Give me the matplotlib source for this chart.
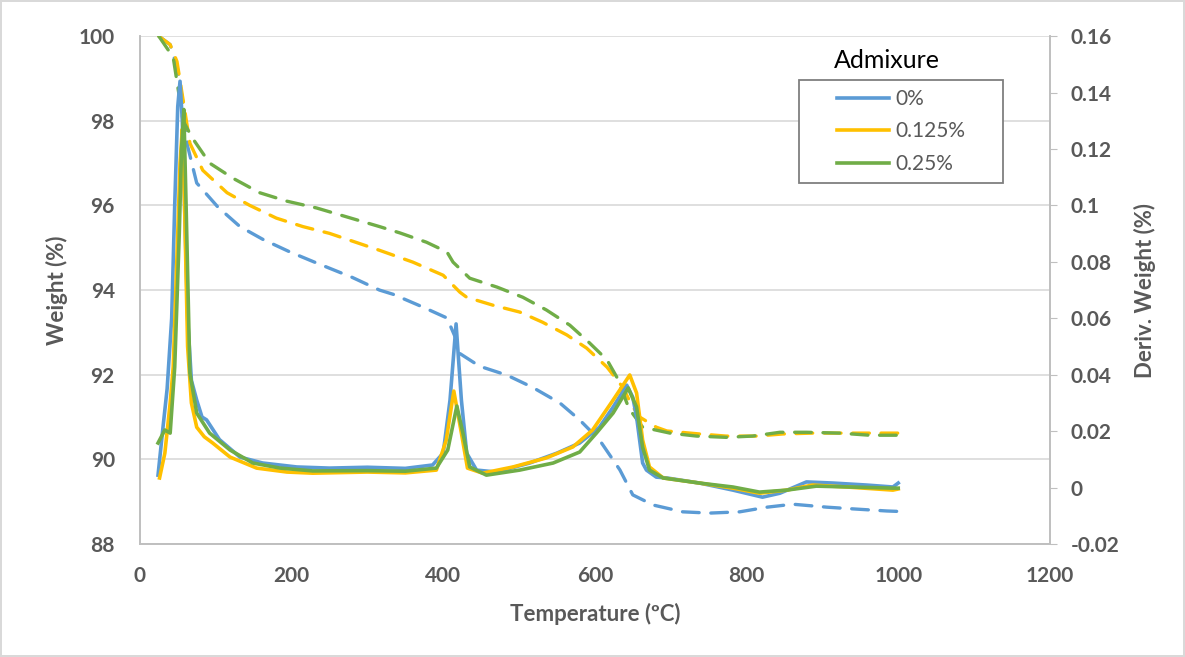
import numpy as np
import matplotlib
matplotlib.use("Agg")
import matplotlib.pyplot as plt
from matplotlib.lines import Line2D
from matplotlib.patches import Rectangle

plt.rcParams['font.family'] = ['Lato', 'DejaVu Sans']

labels = ['0%', '0.125%', '0.25%']
colors = ['#5B9BD5', '#FFC000', '#70AD47']

# weight curves (left axis, dashed)
t_w0 = [25, 40, 50, 57, 63, 75, 103, 132, 162, 198, 233, 280, 316, 334, 373, 405, 418, 422, 448, 484,
        518, 554, 580, 606, 633, 650, 677, 716, 751, 791, 827, 861, 906, 940, 985, 1000]
w0 = [100, 99.8, 99.2, 98.4, 97.4, 96.53, 95.96, 95.5, 95.2, 94.9, 94.64, 94.3, 94.0, 93.9, 93.6, 93.34,
      92.8, 92.5, 92.2, 91.99, 91.7, 91.33, 90.93, 90.46, 89.75, 89.16, 88.92, 88.76, 88.73, 88.76, 88.87,
      88.94, 88.87, 88.83, 88.78, 88.77]

t_w1 = [25, 40, 49, 57, 66, 83, 115, 145, 180, 215, 250, 316, 360, 400, 422, 431, 466, 501, 531, 563,
        589, 616, 637, 648, 659, 681, 695, 738, 773, 813, 848, 887, 927, 966, 1000]
w1 = [100, 99.8, 99.4, 98.5, 97.47, 96.83, 96.3, 96.0, 95.7, 95.5, 95.34, 94.94, 94.66, 94.35, 93.95,
      93.83, 93.64, 93.48, 93.24, 92.94, 92.63, 92.18, 91.7, 91.3, 91.0, 90.76, 90.67, 90.6, 90.55, 90.55,
      90.6, 90.62, 90.62, 90.62, 90.62]

t_w2 = [25, 44, 57, 69, 92, 123, 158, 194, 233, 316, 343, 378, 405, 413, 435, 471, 505, 536, 567, 593,
        616, 629, 645, 663, 699, 734, 773, 808, 844, 879, 923, 962, 1000]
w2 = [100, 99.5, 98.0, 97.6, 97.0, 96.64, 96.3, 96.1, 95.94, 95.5, 95.35, 95.13, 94.9, 94.66, 94.28,
      94.07, 93.83, 93.53, 93.17, 92.75, 92.35, 91.94, 91.2, 90.76, 90.62, 90.55, 90.52, 90.55, 90.64,
      90.64, 90.62, 90.57, 90.57]

# derivative curves (right axis, solid)
t_d0 = [24, 30, 36, 42, 46, 50, 53, 56, 59, 63, 68, 75, 82, 88, 105, 132, 162, 207, 250, 300, 350, 386,
        400, 409, 417, 424, 431, 444, 470, 514, 550, 580, 606, 624, 642, 650, 655, 663, 668, 681, 695,
        738, 782, 821, 844, 879, 914, 958, 993, 1000]
d0 = [0.0044, 0.02, 0.035, 0.06, 0.10, 0.135, 0.144, 0.13, 0.10, 0.06, 0.038, 0.031, 0.025, 0.024,
      0.017, 0.0108, 0.0087, 0.0073, 0.0069, 0.0072, 0.0068, 0.0080, 0.0122, 0.031, 0.058, 0.031,
      0.0122, 0.0062, 0.0055, 0.0087, 0.0122, 0.0158, 0.0214, 0.0285, 0.0363, 0.032, 0.025, 0.0087,
      0.0062, 0.0037, 0.0034, 0.0016, -0.0009, -0.0034, -0.002, 0.0020, 0.0016, 0.0009, 0.0002, 0.0016]

t_d1 = [26, 33, 40, 44, 50, 53, 56, 59, 63, 68, 75, 85, 96, 119, 154, 194, 228, 300, 350, 391, 404, 414,
        424, 432, 452, 492, 536, 571, 597, 624, 646, 655, 663, 672, 690, 738, 782, 817, 853, 887, 932,
        993, 1000]
d1 = [0.0034, 0.0122, 0.03, 0.0427, 0.09, 0.115, 0.127, 0.10, 0.05, 0.03, 0.0214, 0.018, 0.0158,
      0.0108, 0.0069, 0.0055, 0.0051, 0.0055, 0.0052, 0.0062, 0.0168, 0.0342, 0.0193, 0.0069, 0.0051,
      0.0073, 0.0105, 0.0144, 0.0204, 0.031, 0.0399, 0.0335, 0.0168, 0.0073, 0.0034, 0.0016, -0.0002,
      -0.002, -0.0009, 0.0009, 0.0002, -0.0009, -0.0005]

t_d2 = [24, 33, 40, 46, 52, 55, 58, 61, 66, 75, 92, 119, 149, 185, 228, 300, 350, 391, 406, 418, 426,
        435, 457, 501, 545, 580, 602, 624, 644, 655, 663, 672, 690, 738, 782, 817, 853, 892, 936, 993, 1000]
d2 = [0.0158, 0.0204, 0.0193, 0.0427, 0.09, 0.12, 0.134, 0.10, 0.0406, 0.0264, 0.0193, 0.0133, 0.0087,
      0.0069, 0.0059, 0.006, 0.0058, 0.0069, 0.0133, 0.0289, 0.0193, 0.0073, 0.0044, 0.0062, 0.0087,
      0.0126, 0.0193, 0.0264, 0.0353, 0.0285, 0.0143, 0.0062, 0.0034, 0.0016, 0.0002, -0.0016, -0.0009,
      0.0005, 0.0002, -0.0002, -0.0002]

weights = [(t_w0, w0), (t_w1, w1), (t_w2, w2)]
derivs = [(t_d0, d0), (t_d1, d1), (t_d2, d2)]

grey = '#595959'
axis_grey = '#BFBFBF'

fig = plt.figure(figsize=(11.85, 6.57), dpi=100)
fig.patch.set_edgecolor('#D9D9D9')
fig.patch.set_linewidth(1.5)
ax = fig.add_axes([0.118, 0.172, 0.768, 0.773])
ax2 = ax.twinx()

for (t, w), c in zip(weights, colors):
    ax.plot(t, w, color=c, lw=2.4, linestyle=(0, (5, 3.5)), dash_capstyle='round')
for (t, d), c in zip(derivs, colors):
    ax2.plot(t, d, color=c, lw=2.6, solid_joinstyle='round')

ax.set_xlim(0, 1200)
ax.set_ylim(88, 100)
ax.set_yticks(np.arange(88, 101, 2))
ax.set_xticks(np.arange(0, 1201, 200))
ax2.set_ylim(-0.02, 0.16)
ax2.set_yticks(np.arange(-0.02, 0.161, 0.02))
ax2.set_yticklabels(['-0.02', '0', '0.02', '0.04', '0.06', '0.08', '0.1', '0.12', '0.14', '0.16'])

ax.grid(axis='y', color='#D9D9D9', lw=1.2)
ax.set_axisbelow(True)
for a in (ax, ax2):
    a.spines['top'].set_visible(False)
    for s in ['left', 'right', 'bottom']:
        a.spines[s].set_color(axis_grey)
        a.spines[s].set_linewidth(1.2)
ax.tick_params(axis='both', length=0, labelsize=15, labelcolor=grey, pad=16)
ax.tick_params(axis='y', pad=18)
ax2.tick_params(axis='y', length=5, color=axis_grey, labelsize=15, labelcolor=grey, pad=10)
for lab in ax.get_xticklabels() + ax.get_yticklabels() + ax2.get_yticklabels():
    lab.set_fontweight('bold')

ax.set_xlabel('Temperature (ºC)', fontsize=16, fontweight='bold', color=grey, labelpad=12)
ax.set_ylabel('Weight (%)', fontsize=16, fontweight='bold', color=grey, labelpad=8)
ax2.set_ylabel('Deriv. Weight (%)', fontsize=16, fontweight='bold', color=grey, labelpad=10)

# legend: box drawn separately, title above the box
fig.patches.append(Rectangle((0.674, 0.7215), 0.172, 0.157, transform=fig.transFigure,
                             facecolor='white', edgecolor='#7F7F7F', lw=1.3, zorder=5))
handles = [Line2D([0], [0], color=c, lw=2.6) for c in colors]
leg = fig.legend(handles, labels, loc='center left', bbox_to_anchor=(0.706, 0.800),
                 fontsize=15, frameon=False, handlelength=2.5, handletextpad=0.3,
                 labelspacing=0.6, borderpad=0, borderaxespad=0)
leg.set_zorder(6)
for txt in leg.get_texts():
    txt.set_color(grey)
fig.text(0.704, 0.908, 'Admixure', fontsize=18, color='black', ha='left', va='center')

fig.savefig('out.png', dpi=100)
